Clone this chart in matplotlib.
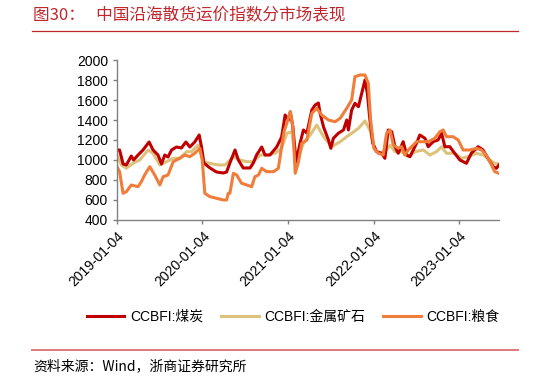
import pandas as pd
import matplotlib.pyplot as plt
import matplotlib.dates as mdates
from matplotlib.lines import Line2D
import matplotlib as mpl

mpl.rcParams.update({
    'font.family': ['Liberation Sans', 'Noto Sans CJK SC'],
    'axes.unicode_minus': False,
})

# CCBFI:煤炭
coal_dates = ['2019-01-04', '2019-01-15', '2019-01-30', '2019-02-13', '2019-03-06', '2019-03-16',
              '2019-04-04', '2019-04-25', '2019-05-21', '2019-06-07', '2019-06-28', '2019-07-13',
              '2019-07-27', '2019-08-10', '2019-08-25', '2019-09-15', '2019-10-06', '2019-10-25',
              '2019-11-11', '2019-12-02', '2019-12-21', '2019-12-31', '2020-01-10', '2020-02-05',
              '2020-03-04', '2020-04-02', '2020-04-16', '2020-04-30', '2020-05-22', '2020-06-05',
              '2020-06-26', '2020-07-25', '2020-08-08', '2020-08-22', '2020-09-13', '2020-09-27',
              '2020-10-18', '2020-11-16', '2020-12-07', '2020-12-22', '2021-01-05', '2021-01-13',
              '2021-01-24', '2021-02-07', '2021-02-24', '2021-03-10', '2021-03-25', '2021-04-15',
              '2021-04-29', '2021-05-13', '2021-05-20', '2021-06-04', '2021-06-25', '2021-07-05',
              '2021-07-16', '2021-08-06', '2021-08-28', '2021-09-11', '2021-09-18', '2021-10-02',
              '2021-10-16', '2021-10-31', '2021-11-14', '2021-11-28', '2021-12-08', '2021-12-19',
              '2021-12-31', '2022-01-17', '2022-02-07', '2022-02-21', '2022-03-07', '2022-03-22',
              '2022-04-05', '2022-04-19', '2022-05-10', '2022-05-25', '2022-06-08', '2022-07-06',
              '2022-07-20', '2022-08-11', '2022-08-25', '2022-09-15', '2022-10-06', '2022-10-21',
              '2022-11-04', '2022-11-25', '2022-12-16', '2023-01-07', '2023-02-04', '2023-02-25',
              '2023-03-26', '2023-04-16', '2023-05-07', '2023-05-29', '2023-06-12', '2023-06-23']
coal = [1100, 1100, 960, 950, 1040, 1000,
        1050, 1100, 1180, 1100, 1050, 960,
        1050, 1030, 1100, 1130, 1120, 1180,
        1130, 1180, 1250, 1130, 970, 920,
        880, 870, 880, 970, 1100, 1000,
        920, 920, 970, 1050, 1130, 1050,
        1050, 1130, 1230, 1450, 1400, 1480,
        1330, 980, 1170, 1300, 1270, 1500,
        1550, 1570, 1470, 1330, 1200, 1117,
        1217, 1267, 1300, 1400, 1300, 1500,
        1567, 1533, 1667, 1800, 1667, 1400,
        1167, 1083, 1067, 1017, 1300, 1283,
        1133, 1067, 1183, 1050, 1033, 1167,
        1250, 1217, 1133, 1183, 1200, 1267,
        1133, 1133, 1067, 1000, 967, 1067,
        1133, 1100, 1017, 933, 917, 950]

# CCBFI:金属矿石
metal_dates = ['2019-01-04', '2019-01-23', '2019-02-13', '2019-03-13', '2019-04-11', '2019-05-17',
               '2019-06-07', '2019-07-06', '2019-08-03', '2019-09-01', '2019-09-29', '2019-10-28',
               '2019-11-18', '2019-12-17', '2020-01-07', '2020-02-05', '2020-03-11', '2020-04-09',
               '2020-05-15', '2020-06-12', '2020-07-11', '2020-08-08', '2020-09-06', '2020-10-04',
               '2020-11-09', '2020-12-07', '2020-12-29', '2021-01-20', '2021-02-03', '2021-02-17',
               '2021-03-10', '2021-04-08', '2021-05-06', '2021-06-04', '2021-07-09', '2021-08-14',
               '2021-09-11', '2021-10-02', '2021-10-31', '2021-11-28', '2021-12-19', '2022-01-10',
               '2022-01-31', '2022-02-28', '2022-03-15', '2022-04-05', '2022-05-03', '2022-06-01',
               '2022-06-29', '2022-08-04', '2022-09-01', '2022-09-29', '2022-10-21', '2022-11-11',
               '2022-12-16', '2023-01-14', '2023-02-11', '2023-03-19', '2023-04-16', '2023-05-15',
               '2023-06-05', '2023-06-23']
metal = [1050, 950, 917, 967, 1000, 1100,
         1067, 950, 983, 1017, 1017, 1083,
         1083, 1150, 983, 967, 950, 950,
         1033, 1000, 983, 983, 1050, 1050,
         1067, 1117, 1267, 1283, 1017, 1033,
         1167, 1250, 1350, 1233, 1133, 1183,
         1233, 1267, 1317, 1390, 1300, 1100,
         1067, 1100, 1150, 1083, 1083, 1033,
         1083, 1100, 1050, 1083, 1133, 1067,
         1067, 1017, 1033, 1067, 1050, 1000,
         967, 960]

# CCBFI:粮食
grain_dates = ['2019-01-04', '2019-01-15', '2019-01-30', '2019-02-13', '2019-03-06', '2019-04-04',
               '2019-04-18', '2019-05-02', '2019-05-24', '2019-06-14', '2019-07-06', '2019-07-20',
               '2019-08-10', '2019-09-01', '2019-09-29', '2019-10-21', '2019-11-11', '2019-12-02',
               '2019-12-24', '2020-01-03', '2020-01-14', '2020-02-05', '2020-03-04', '2020-04-02',
               '2020-04-16', '2020-04-23', '2020-04-30', '2020-05-15', '2020-05-29', '2020-06-19',
               '2020-07-11', '2020-08-01', '2020-08-15', '2020-08-30', '2020-09-13', '2020-10-04',
               '2020-11-02', '2020-11-23', '2020-12-07', '2020-12-17', '2020-12-29', '2021-01-13',
               '2021-01-24', '2021-02-03', '2021-02-17', '2021-03-03', '2021-03-25', '2021-04-15',
               '2021-05-06', '2021-05-27', '2021-06-25', '2021-07-23', '2021-08-14', '2021-09-11',
               '2021-10-02', '2021-10-16', '2021-11-07', '2021-11-28', '2021-12-12', '2021-12-22',
               '2022-01-05', '2022-01-24', '2022-02-14', '2022-02-28', '2022-03-15', '2022-03-29',
               '2022-04-19', '2022-05-03', '2022-05-17', '2022-06-01', '2022-06-15', '2022-07-06',
               '2022-08-04', '2022-08-25', '2022-09-22', '2022-10-14', '2022-10-28', '2022-11-11',
               '2022-12-09', '2022-12-31', '2023-01-21', '2023-02-18', '2023-03-19', '2023-04-09',
               '2023-04-30', '2023-05-22', '2023-06-05', '2023-06-23']
grain = [933, 883, 667, 683, 750, 733,
         783, 850, 933, 850, 750, 833,
         850, 983, 1017, 1050, 1033, 1067,
         1117, 1000, 667, 633, 617, 600,
         600, 667, 667, 867, 850, 767,
         750, 733, 833, 850, 917, 883,
         883, 917, 1133, 1283, 1367, 1483,
         1333, 867, 983, 1167, 1200, 1467,
         1517, 1450, 1400, 1383, 1417, 1517,
         1600, 1833, 1850, 1850, 1767, 1400,
         1117, 1067, 1050, 1267, 1300, 1150,
         1117, 1133, 1050, 1100, 1133, 1183,
         1183, 1183, 1217, 1283, 1300, 1233,
         1233, 1200, 1100, 1100, 1117, 1100,
         1050, 950, 883, 867]

tick_dates = ['2019-01-04', '2020-01-04', '2021-01-04', '2022-01-04', '2023-01-04']
labels = ['CCBFI:煤炭', 'CCBFI:金属矿石', 'CCBFI:粮食']
colors = ['#C00000', '#DCC27A', '#F07D3A']

fig = plt.figure(figsize=(5.48, 3.81), dpi=100)
ax = fig.add_axes([0.2135, 0.4226, 0.697, 0.4199])

series = [(coal_dates, coal), (metal_dates, metal), (grain_dates, grain)]
# metal underneath, coal, then grain on top
for i in (1, 0, 2):
    d, v = series[i]
    ax.plot(pd.to_datetime(d), v, color=colors[i], lw=2.2, solid_joinstyle='round')

ax.set_ylim(400, 2000)
ax.set_yticks(range(400, 2001, 200))
ax.set_xlim(pd.Timestamp('2019-01-04'), pd.Timestamp('2023-06-23'))
ax.set_xticks(pd.to_datetime(tick_dates))
ax.xaxis.set_major_formatter(mdates.DateFormatter('%Y-%m-%d'))
for lbl in ax.get_xticklabels():
    lbl.set_rotation(45)
    lbl.set_ha('right')
    lbl.set_rotation_mode('anchor')

for s in ('top', 'right'):
    ax.spines[s].set_visible(False)
for s in ('left', 'bottom'):
    ax.spines[s].set_color('#808080')
    ax.spines[s].set_linewidth(1.0)
ax.tick_params(axis='both', colors='#808080', labelcolor='black', labelsize=10,
               length=3, width=1)

handles = [Line2D([], [], color=c, lw=2.2) for c in colors]
fig.legend(handles, labels, loc='center', bbox_to_anchor=(0.535, 0.168), ncol=3,
           frameon=False, fontsize=10, handlelength=2.7, columnspacing=1.3,
           handletextpad=0.4)

# 标题与来源
fig.text(0.06, 0.958, '图30：   中国沿海散货运价指数分市场表现', color='#C0272D',
         fontsize=12, va='center', ha='left', family=['Noto Sans CJK SC'])
fig.add_artist(Line2D([32 / 548, 518 / 548], [1 - 31 / 381, 1 - 31 / 381],
                      color='#C0272D', lw=0.9))
fig.add_artist(Line2D([32 / 548, 518 / 548], [1 - 350 / 381, 1 - 350 / 381],
                      color='#E07A7A', lw=1.4))
fig.text(0.06, 1 - 366 / 381, '资料来源：Wind，浙商证券研究所', color='black',
         fontsize=10, va='center', ha='left', family=['Noto Sans CJK SC'])

fig.savefig('out.png', dpi=100)
